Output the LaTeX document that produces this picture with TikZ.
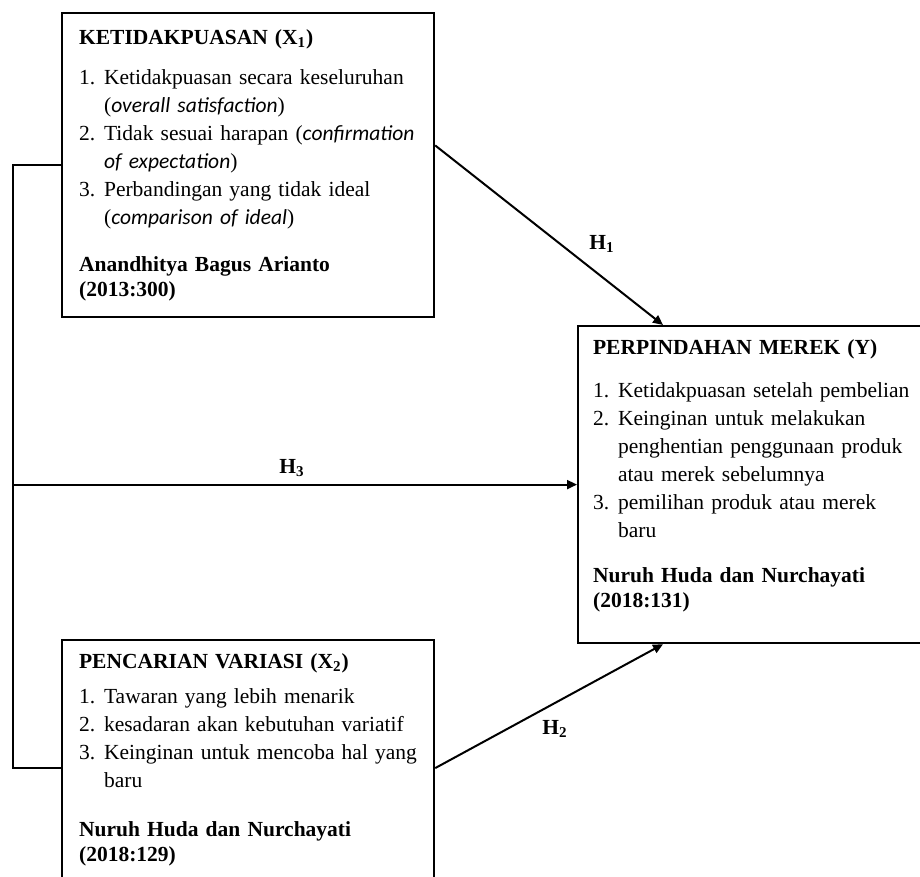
\documentclass[tikz,border=0pt]{standalone}
\usepackage{fontspec}
\setmainfont{Liberation Serif}
\newfontfamily\calib{Carlito}
\usetikzlibrary{arrows.meta,positioning}
\setlength{\parindent}{0pt}

\newcommand{\engl}[1]{{\calib\itshape #1}}
\newcommand{\brk}{\hfil\break}
\newcommand{\itm}[2]{\hangindent=12.5pt\hangafter=1\noindent\makebox[12.5pt][l]{#1}#2\par}
\newcommand{\src}[2]{{\fontsize{10.75}{12.5}\selectfont\bfseries #1\brk #2\par}}

\begin{document}
\begin{tikzpicture}[
    x=0.5pt, y=-0.5pt,
    every node/.style={font=\fontsize{10.75}{14}\selectfont},
    varbox/.style={rectangle, draw, line width=1.1pt, align=left, inner xsep=8.5pt, inner ysep=0pt, anchor=north west},
    hlabel/.style={font=\fontsize{10.75}{14}\selectfont\bfseries, inner sep=0pt},
    link/.style={line width=1pt},
    arrow/.style={-{Triangle[length=5pt,width=4.5pt]}, line width=1pt},
]
\useasboundingbox (0,0) rectangle (920,877);
\clip (0,0) rectangle (920,877);

% Independent variables
\node[varbox, text width=169pt, text height=15.5pt, text depth=136.5pt] (x1) at (61,12) {%
\textbf{KETIDAKPUASAN (X\textsubscript{1})}\par\vspace{6pt}
\itm{1.}{Ketidakpuasan secara keseluruhan\brk(\engl{overall satisfaction})}
\itm{2.}{Tidak sesuai harapan (\engl{confirmation}\brk\engl{of expectation})}
\itm{3.}{Perbandingan yang tidak ideal\brk(\engl{comparison of ideal})}
\vspace{11pt}
\src{Anandhitya Bagus Arianto}{(2013:300)}};

\node[varbox, text width=169pt, text height=14pt, text depth=114pt] (x2) at (61,639) {%
\textbf{PENCARIAN VARIASI (X\textsubscript{2})}\par\vspace{3.5pt}
\itm{1.}{Tawaran yang lebih menarik}
\itm{2.}{kesadaran akan kebutuhan variatif}
\itm{3.}{Keinginan untuk mencoba hal yang\brk baru}
\vspace{12pt}
\src{Nuruh Huda dan Nurchayati}{(2018:129)}};

% Dependent variable
\node[varbox, inner xsep=7.5pt, text width=175pt, text height=14pt, text depth=144.5pt] (y) at (577,325) {%
\textbf{PERPINDAHAN MEREK (Y)}\par\vspace{7.5pt}
\itm{1.}{Ketidakpuasan setelah pembelian}
\itm{2.}{Keinginan untuk melakukan\brk penghentian penggunaan produk\brk atau merek sebelumnya}
\itm{3.}{pemilihan produk atau merek\brk baru}
\vspace{10pt}
\src{Nuruh Huda dan Nurchayati}{(2018:131)}};

% Hypotheses
\coordinate[left=24pt of x1.west] (bus);
\draw[link] (x1.west) -- (bus) |- (x2.west);
\draw[arrow] (bus |- y.west) -- (y.west);
\draw[arrow] (x1.6) -- ([xshift=43pt]y.north west);
\draw[arrow] (x2.east) -- ([xshift=43pt]y.south west);

\node[hlabel] (h1) at (602,244) {H\textsubscript{1}};
\node[hlabel] (h3) at (292,468) {H\textsubscript{3}};
\node[hlabel] (h2) at (555,729) {H\textsubscript{2}};

\end{tikzpicture}
\end{document}
